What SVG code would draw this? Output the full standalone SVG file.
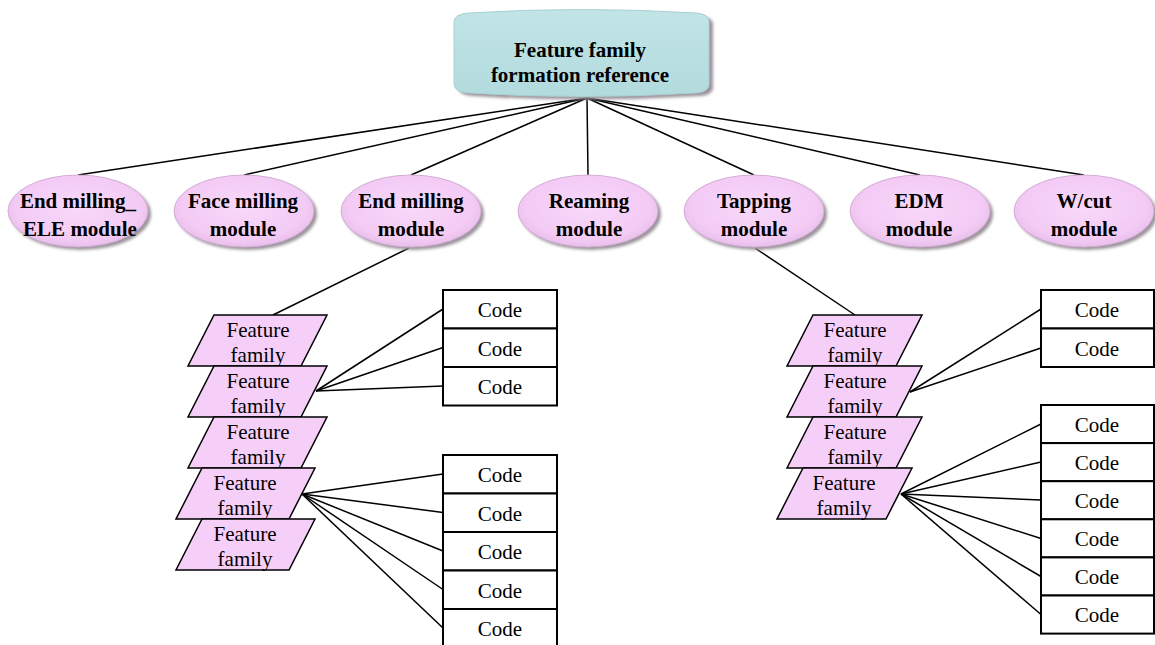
<svg xmlns="http://www.w3.org/2000/svg" width="1155" height="645" viewBox="0 0 1155 645">
  <style>
    text { font-family: "Liberation Serif", "Times New Roman", serif; font-size: 21px; fill: #000; text-anchor: middle; }
    .bold { font-weight: bold; }
    .link { stroke: #000; stroke-width: 1.5; fill: none; }
    .mod { fill: url(#modFill); stroke: #d4acd6; stroke-width: 1; }
    .shadow { fill: #9c949c; filter: url(#soft); }
    .ff { fill: #f6cff9; stroke: #000; stroke-width: 1.5; stroke-linejoin: miter; }
    .code { fill: #fff; stroke: #000; stroke-width: 2; }
  </style>
  <defs>
    <radialGradient id="modFill" cx="50%" cy="45%" r="55%">
      <stop offset="0" stop-color="#f8d8f9"/>
      <stop offset="0.8" stop-color="#f3cbf5"/>
      <stop offset="1" stop-color="#e8bfea"/>
    </radialGradient>
    <linearGradient id="rootFill" x1="0" y1="0" x2="0" y2="1">
      <stop offset="0" stop-color="#c2e4e6"/>
      <stop offset="1" stop-color="#b2dbde"/>
    </linearGradient>
    <filter id="soft" x="-10%" y="-10%" width="120%" height="130%">
      <feGaussianBlur stdDeviation="1.5"/>
    </filter>
  </defs>

  <!-- connectors -->
  <g id="connectors">
    <!-- root to modules -->
    <line class="link" x1="587" y1="98" x2="78" y2="175"/>
    <line class="link" x1="587" y1="98" x2="244" y2="175"/>
    <line class="link" x1="587" y1="98" x2="411" y2="175"/>
    <line class="link" x1="587" y1="98" x2="588" y2="175"/>
    <line class="link" x1="587" y1="98" x2="754" y2="175"/>
    <line class="link" x1="587" y1="98" x2="920" y2="175"/>
    <line class="link" x1="587" y1="98" x2="1084" y2="175"/>
    <!-- modules to feature families -->
    <line class="link" x1="409" y1="248" x2="273" y2="315"/>
    <line class="link" x1="755" y1="248" x2="855" y2="315"/>
    <!-- left feature family 2 to codes -->
    <line class="link" x1="316" y1="391" x2="443" y2="309"/>
    <line class="link" x1="316" y1="391" x2="443" y2="347.5"/>
    <line class="link" x1="316" y1="391" x2="443" y2="386"/>
    <!-- left feature family 4 to codes -->
    <line class="link" x1="302" y1="494" x2="443" y2="474"/>
    <line class="link" x1="302" y1="494" x2="443" y2="512.5"/>
    <line class="link" x1="302" y1="494" x2="443" y2="551"/>
    <line class="link" x1="302" y1="494" x2="443" y2="589.5"/>
    <line class="link" x1="302" y1="494" x2="443" y2="628"/>
    <!-- right feature family 2 to codes -->
    <line class="link" x1="910" y1="392" x2="1041" y2="309"/>
    <line class="link" x1="910" y1="392" x2="1041" y2="348"/>
    <!-- right feature family 4 to codes -->
    <line class="link" x1="901" y1="494" x2="1041" y2="424"/>
    <line class="link" x1="901" y1="494" x2="1041" y2="462"/>
    <line class="link" x1="901" y1="494" x2="1041" y2="500"/>
    <line class="link" x1="901" y1="494" x2="1041" y2="538.5"/>
    <line class="link" x1="901" y1="494" x2="1041" y2="576.5"/>
    <line class="link" x1="901" y1="494" x2="1041" y2="614.5"/>
  </g>

  <!-- root node -->
  <g id="root">
    <path class="shadow" d="M458,25 Q458,17 473,16 Q586,9 700,16 Q713,17 713,25 L713,87 Q713,95 700,96 Q586,103 473,96 Q458,95 458,87 Z"/>
    <path d="M454,22 Q454,14 469,13 Q582,6 696,13 Q709,14 709,22 L709,84 Q709,92 696,93 Q582,100 469,93 Q454,92 454,84 Z" fill="url(#rootFill)" stroke="#a8cfd2" stroke-width="1"/>
    <text class="bold" x="580" y="57">Feature family</text>
    <text class="bold" x="580" y="82">formation reference</text>
  </g>

  <!-- process modules -->
  <g id="mod-end-milling-ele">
    <ellipse class="shadow" cx="81" cy="214" rx="70" ry="36"/>
    <ellipse class="mod" cx="78" cy="211" rx="70" ry="36"/>
    <text class="bold" x="78" y="208">End milling_</text>
    <text class="bold" x="80" y="236">ELE module</text>
  </g>
  <g id="mod-face-milling">
    <ellipse class="shadow" cx="247" cy="214" rx="70" ry="36"/>
    <ellipse class="mod" cx="244" cy="211" rx="70" ry="36"/>
    <text class="bold" x="243" y="208">Face milling</text>
    <text class="bold" x="243" y="236">module</text>
  </g>
  <g id="mod-end-milling">
    <ellipse class="shadow" cx="414" cy="214" rx="70" ry="36"/>
    <ellipse class="mod" cx="411" cy="211" rx="70" ry="36"/>
    <text class="bold" x="411" y="208">End milling</text>
    <text class="bold" x="411" y="236">module</text>
  </g>
  <g id="mod-reaming">
    <ellipse class="shadow" cx="591" cy="214" rx="70" ry="36"/>
    <ellipse class="mod" cx="588" cy="211" rx="70" ry="36"/>
    <text class="bold" x="589" y="208">Reaming</text>
    <text class="bold" x="589" y="236">module</text>
  </g>
  <g id="mod-tapping">
    <ellipse class="shadow" cx="757" cy="214" rx="70" ry="36"/>
    <ellipse class="mod" cx="754" cy="211" rx="70" ry="36"/>
    <text class="bold" x="754" y="208">Tapping</text>
    <text class="bold" x="754" y="236">module</text>
  </g>
  <g id="mod-edm">
    <ellipse class="shadow" cx="923" cy="214" rx="70" ry="36"/>
    <ellipse class="mod" cx="920" cy="211" rx="70" ry="36"/>
    <text class="bold" x="919" y="208">EDM</text>
    <text class="bold" x="919" y="236">module</text>
  </g>
  <g id="mod-wcut">
    <ellipse class="shadow" cx="1087" cy="214" rx="70" ry="36"/>
    <ellipse class="mod" cx="1084" cy="211" rx="70" ry="36"/>
    <text class="bold" x="1084" y="208">W/cut</text>
    <text class="bold" x="1084" y="236">module</text>
  </g>

  <!-- feature families under end milling -->
  <g id="ff-left-1">
    <polygon class="ff" points="214,315 327,315 301,366 188,366"/>
    <text x="258" y="337">Feature</text>
    <text x="258" y="362">family</text>
  </g>
  <g id="ff-left-2">
    <polygon class="ff" points="214,366 327,366 301,417 188,417"/>
    <text x="258" y="388">Feature</text>
    <text x="258" y="413">family</text>
  </g>
  <g id="ff-left-3">
    <polygon class="ff" points="214,417 327,417 301,468 188,468"/>
    <text x="258" y="439">Feature</text>
    <text x="258" y="464">family</text>
  </g>
  <g id="ff-left-4">
    <polygon class="ff" points="202,468 315,468 289,519 176,519"/>
    <text x="245" y="490">Feature</text>
    <text x="245" y="515">family</text>
  </g>
  <g id="ff-left-5">
    <polygon class="ff" points="202,519 315,519 289,570 176,570"/>
    <text x="245" y="541">Feature</text>
    <text x="245" y="566">family</text>
  </g>

  <!-- feature families under tapping -->
  <g id="ff-right-1">
    <polygon class="ff" points="813,315 922,315 896,366 787,366"/>
    <text x="855" y="337">Feature</text>
    <text x="855" y="362">family</text>
  </g>
  <g id="ff-right-2">
    <polygon class="ff" points="813,366 922,366 896,417 787,417"/>
    <text x="855" y="388">Feature</text>
    <text x="855" y="413">family</text>
  </g>
  <g id="ff-right-3">
    <polygon class="ff" points="813,417 922,417 896,468 787,468"/>
    <text x="855" y="439">Feature</text>
    <text x="855" y="464">family</text>
  </g>
  <g id="ff-right-4">
    <polygon class="ff" points="803,468 912,468 886,519 777,519"/>
    <text x="844" y="490">Feature</text>
    <text x="844" y="515">family</text>
  </g>

  <!-- code boxes, left upper -->
  <g id="code-l1"><rect class="code" x="443" y="290" width="114" height="38.5"/><text x="500" y="317">Code</text></g>
  <g id="code-l2"><rect class="code" x="443" y="328.5" width="114" height="38.5"/><text x="500" y="355.5">Code</text></g>
  <g id="code-l3"><rect class="code" x="443" y="367" width="114" height="38.5"/><text x="500" y="394">Code</text></g>

  <!-- code boxes, left lower -->
  <g id="code-l4"><rect class="code" x="443" y="455" width="114" height="38.5"/><text x="500" y="482">Code</text></g>
  <g id="code-l5"><rect class="code" x="443" y="493.5" width="114" height="38.5"/><text x="500" y="520.5">Code</text></g>
  <g id="code-l6"><rect class="code" x="443" y="532" width="114" height="38.5"/><text x="500" y="559">Code</text></g>
  <g id="code-l7"><rect class="code" x="443" y="570.5" width="114" height="38.5"/><text x="500" y="597.5">Code</text></g>
  <g id="code-l8"><rect class="code" x="443" y="609" width="114" height="38.5"/><text x="500" y="636">Code</text></g>

  <!-- code boxes, right upper -->
  <g id="code-r1"><rect class="code" x="1041" y="290" width="113" height="38.5"/><text x="1097" y="317">Code</text></g>
  <g id="code-r2"><rect class="code" x="1041" y="328.5" width="113" height="38.5"/><text x="1097" y="355.5">Code</text></g>

  <!-- code boxes, right lower -->
  <g id="code-r3"><rect class="code" x="1041" y="405" width="113" height="38.1"/><text x="1097" y="431.5">Code</text></g>
  <g id="code-r4"><rect class="code" x="1041" y="443.1" width="113" height="38.1"/><text x="1097" y="469.6">Code</text></g>
  <g id="code-r5"><rect class="code" x="1041" y="481.2" width="113" height="38.1"/><text x="1097" y="507.7">Code</text></g>
  <g id="code-r6"><rect class="code" x="1041" y="519.3" width="113" height="38.1"/><text x="1097" y="545.8">Code</text></g>
  <g id="code-r7"><rect class="code" x="1041" y="557.4" width="113" height="38.1"/><text x="1097" y="583.9">Code</text></g>
  <g id="code-r8"><rect class="code" x="1041" y="595.5" width="113" height="38.1"/><text x="1097" y="622">Code</text></g>
</svg>
